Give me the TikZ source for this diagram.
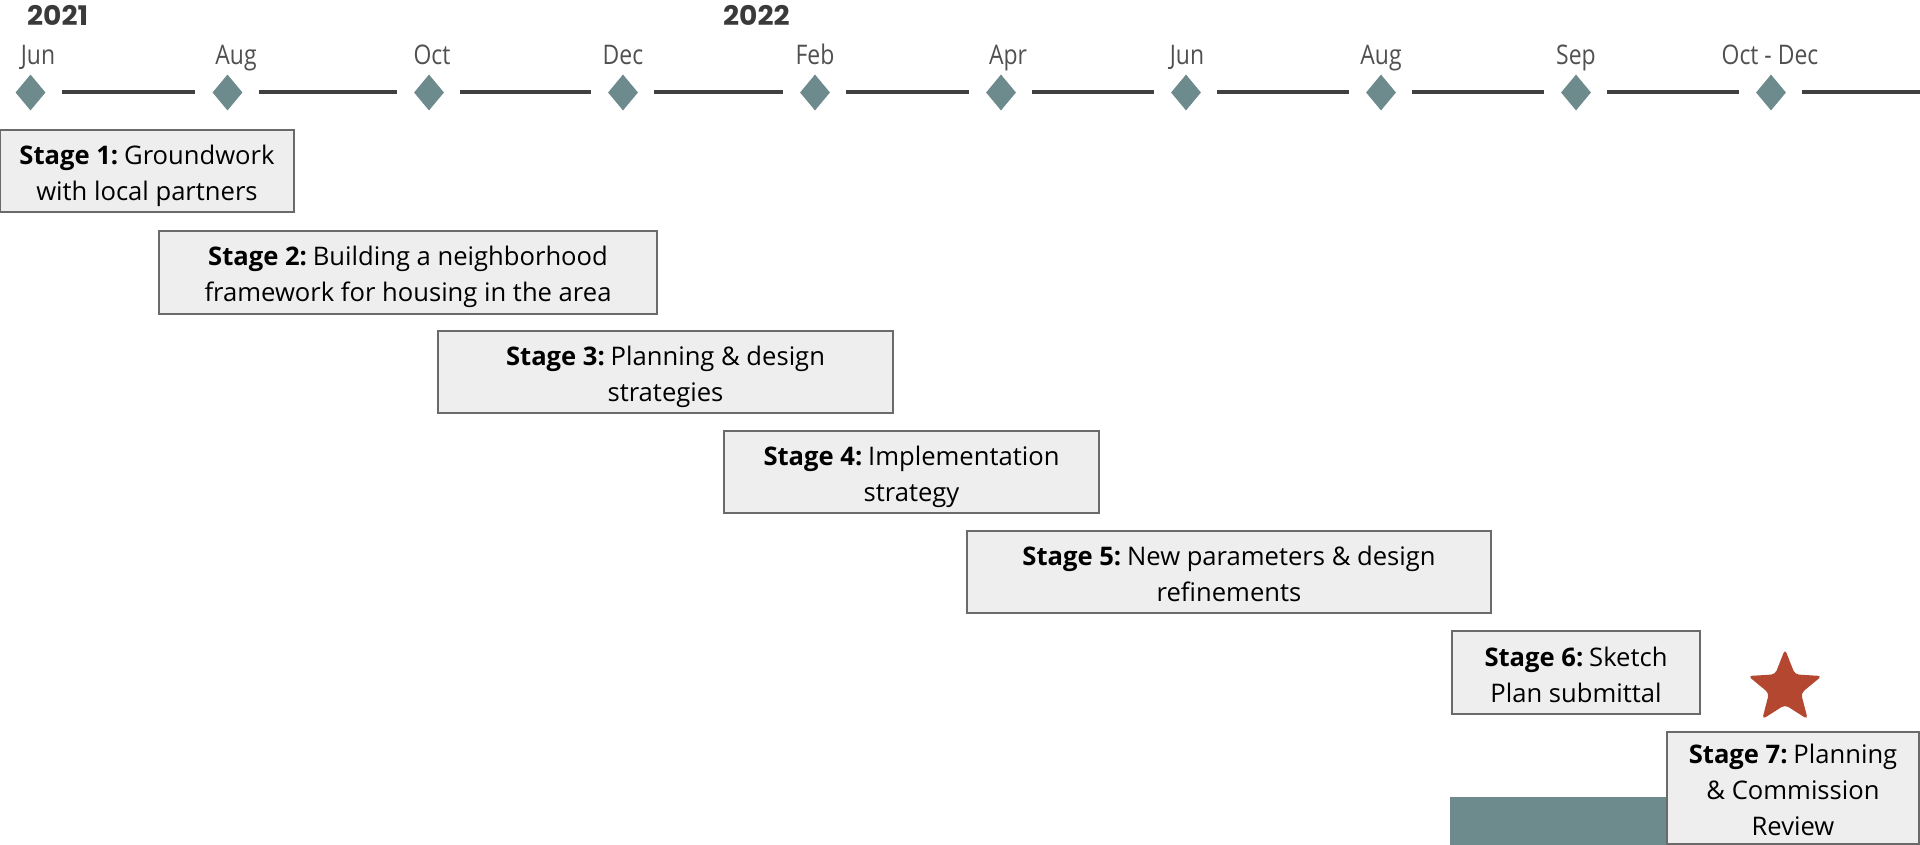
\documentclass[tikz,border=0pt]{standalone}
\usepackage{fontspec}
\setmainfont{Open Sans}
\newfontfamily\monthfont{Open Sans}[FakeStretch=0.85]
\newfontfamily\yearfont{Poppins}[FakeStretch=1.04]
\usetikzlibrary{shapes.geometric}
\definecolor{tealgray}{HTML}{6D8A8C}
\definecolor{linegray}{HTML}{404040}
\definecolor{boxborder}{HTML}{6A6A6A}
\definecolor{boxfill}{HTML}{EEEEEE}
\definecolor{monthgray}{HTML}{505050}
\definecolor{yeargray}{HTML}{3A3A3A}
\definecolor{starred}{HTML}{B3472F}
\newcommand{\ls}{\rule[-6pt]{0pt}{35pt}}
\newcommand{\stg}[1]{\textbf{Stage #1:}\hspace{-3pt} }
\tikzset{
  stagebox/.style={draw=boxborder, line width=2pt, fill=boxfill, align=center, inner sep=0pt,
    font=\fontsize{25.6}{36}\selectfont, text=black},
  milestone/.style={shape=diamond, fill=tealgray, inner sep=0pt, minimum width=30pt, minimum height=36pt},
  monthlabel/.style={anchor=base, inner sep=0pt, text=monthgray, font=\monthfont\fontsize{27}{30}\selectfont},
  yearlabel/.style={anchor=base west, inner sep=0pt, text=yeargray, font=\yearfont\bfseries\fontsize{27}{30}\selectfont},
  timeline/.style={draw=linegray, line width=4pt, shorten <=16pt, shorten >=17pt}
}
\begin{document}
\begin{tikzpicture}[x=1pt,y=-1pt]
\useasboundingbox (0,0) rectangle (1920,845);
% years
\node[yearlabel] (y2021) at (27,26) {2021};
\node[yearlabel] (y2022) at (723,26) {2022};
% milestones
\foreach \i/\x/\lx/\m in {1/30.5/38/Jun,2/227.5/236/Aug,3/429/432/Oct,4/623/623/Dec,5/815/815/Feb,6/1001/1008/Apr,7/1186/1187/Jun,8/1381/1381/Aug,9/1576/1576/Sep,10/1771/1770/Oct - Dec}{
  \node[milestone] (d\i) at (\x,92.5) {};
  \node[monthlabel] (m\i) at (\lx,65) {\m};
}
\coordinate (tend) at (1937,92.5);
\foreach \a/\b in {1/2,2/3,3/4,4/5,5/6,6/7,7/8,8/9,9/10}{
  \draw[timeline] (d\a) -- (d\b);
}
\draw[timeline] (d10) -- (tend);
% teal bar
\fill[tealgray] (1450,797) rectangle (1700,846);
% stages
\node[stagebox, minimum width=294pt, minimum height=82pt] (s1) at (147,171) {\ls\stg{1}Groundwork\\\ls with local partners};
\node[stagebox, minimum width=498pt, minimum height=83pt] (s2) at (408,272.5) {\ls\stg{2}Building a neighborhood\\\ls framework for housing in the area};
\node[stagebox, minimum width=455pt, minimum height=82pt] (s3) at (665.5,372) {\ls\stg{3}Planning \& design\\\ls strategies};
\node[stagebox, minimum width=375pt, minimum height=82pt] (s4) at (911.5,472) {\ls\stg{4}Implementation\\\ls strategy};
\node[stagebox, minimum width=524pt, minimum height=82pt] (s5) at (1229,572) {\ls\stg{5}New parameters \& design\\\ls refinements};
\node[stagebox, minimum width=248pt, minimum height=83pt] (s6) at (1576,672.5) {\ls\stg{6}Sketch\\\ls Plan submittal};
\node[stagebox, minimum width=252pt, minimum height=112pt] (s7) at (1793,788) {\ls\stg{7}Planning\\\ls\& Commission\\\ls Review};
% star
\node[star, star points=5, star point ratio=2.3, fill=starred, minimum size=77.5pt, inner sep=0pt, rounded corners=4pt] (star) at (1785,688) {};
\end{tikzpicture}
\end{document}
